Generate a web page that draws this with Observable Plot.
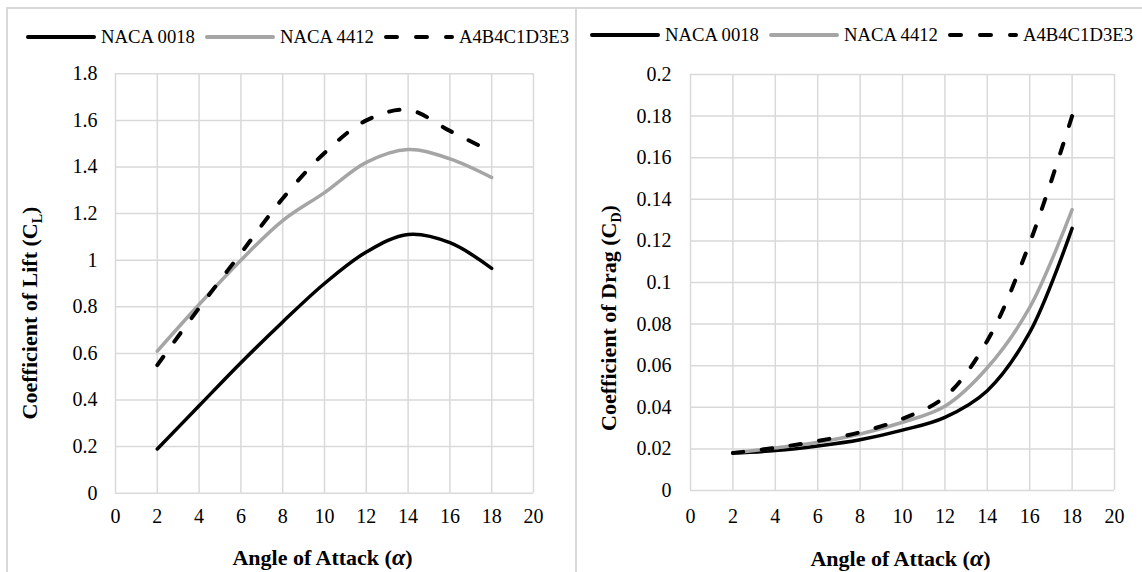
<!DOCTYPE html>
<html>
<head>
<meta charset="utf-8">
<script src="https://cdn.jsdelivr.net/npm/d3@7"></script>
<script src="https://cdn.jsdelivr.net/npm/@observablehq/plot@0.6"></script>
<style>
  html, body { margin: 0; padding: 0; background: #fff; }
  body { width: 1142px; height: 572px; overflow: hidden; font-family: "Liberation Serif", "Times New Roman", serif; font-weight: 400; color: #000; }
  #wrap { position: relative; width: 1142px; height: 572px; }
  .chart { position: absolute; top: 52px; }
  .legend { position: absolute; display: flex; align-items: center; height: 24px; font-size: 18.7px; white-space: nowrap; line-height: 24px; }
  .legend .item { display: flex; align-items: center; }
  .legend svg { display: block; }
  .legend .lab { margin-left: 5px; }
  .legend .item + .item { margin-left: 10px; }
  .line-h { position: absolute; background: #d9d9d9; pointer-events: none; }
</style>
</head>
<body>
<div id="wrap">
  <div class="line-h" style="left:6px; top:7px; width:1136px; height:1.5px;"></div>
  <div class="line-h" style="left:6px; top:7px; width:1.5px; height:565px;"></div>
  <div class="line-h" style="left:574.5px; top:7px; width:2px; height:565px;"></div>
  <div id="legendL" class="legend" style="left:26px; top:25px;"></div>
  <div id="legendR" class="legend" style="left:590px; top:23px;"></div>
  <div id="chartL" class="chart" style="left:0px;"></div>
  <div id="chartR" class="chart" style="left:575px;"></div>
</div>
<script>
// ---- data ----
const angles = [2, 4, 6, 8, 10, 12, 14, 16, 18];
const seriesNames = ["NACA 0018", "NACA 4412", "A4B4C1D3E3"];

const liftNACA0018 = [0.19, 0.375, 0.56, 0.735, 0.9, 1.035, 1.11, 1.075, 0.965];
const liftNACA4412 = [0.61, 0.81, 1.0, 1.17, 1.29, 1.42, 1.475, 1.435, 1.355];
const liftA4B4C1D3E3 = [0.55, 0.795, 1.03, 1.265, 1.46, 1.6, 1.645, 1.555, 1.465];

const dragNACA0018 = [0.018, 0.0192, 0.0214, 0.0244, 0.029, 0.0352, 0.048, 0.076, 0.126];
const dragNACA4412 = [0.018, 0.0205, 0.0232, 0.0272, 0.0328, 0.0405, 0.059, 0.088, 0.135];
const dragA4B4C1D3E3 = [0.018, 0.0205, 0.0238, 0.028, 0.0345, 0.045, 0.072, 0.119, 0.18];

const xTicks = [0, 2, 4, 6, 8, 10, 12, 14, 16, 18, 20];
const liftTicks = [0, 0.2, 0.4, 0.6, 0.8, 1, 1.2, 1.4, 1.6, 1.8];
const dragTicks = [0, 0.02, 0.04, 0.06, 0.08, 0.1, 0.12, 0.14, 0.16, 0.18, 0.2];

const xTitle = "Angle of Attack (α)";
const liftTitle = "Coefficient of Lift (CL)";
const dragTitle = "Coefficient of Drag (CD)";

const serifStack = "'Liberation Serif', 'Times New Roman', serif";

// ---- styles ----
const seriesStyle = {
  "NACA 0018": {stroke: "#000000", strokeWidth: 3.5, dash: null},
  "NACA 4412": {stroke: "#a5a5a5", strokeWidth: 3.5, dash: null},
  "A4B4C1D3E3": {stroke: "#000000", strokeWidth: 4, dash: "10.5,18.5"}
};

function rows(values) {
  return angles.map((a, i) => ({angle: a, value: values[i]}));
}

function buildLegend(el) {
  const ns = "http://www.w3.org/2000/svg";
  seriesNames.forEach(name => {
    const st = seriesStyle[name];
    const item = document.createElement("div");
    item.className = "item";
    const svg = document.createElementNS(ns, "svg");
    svg.setAttribute("width", 70);
    svg.setAttribute("height", 12);
    const ln = document.createElementNS(ns, "line");
    ln.setAttribute("x1", 2); ln.setAttribute("x2", 68);
    ln.setAttribute("y1", 6); ln.setAttribute("y2", 6);
    ln.setAttribute("stroke", st.stroke);
    ln.setAttribute("stroke-width", 4);
    ln.setAttribute("stroke-linecap", "round");
    if (st.dash) ln.setAttribute("stroke-dasharray", "11,19");
    svg.appendChild(ln);
    const lab = document.createElement("span");
    lab.className = "lab";
    lab.textContent = name;
    item.appendChild(svg);
    item.appendChild(lab);
    el.appendChild(item);
  });
}

function chart(cfg) {
  const marks = [
    Plot.ruleX(xTicks, {x: d => d, stroke: "#d9d9d9", strokeWidth: 1.5}),
    Plot.ruleY(cfg.yTicks, {y: d => d, stroke: "#d9d9d9", strokeWidth: 1.5})
  ];
  cfg.series.forEach(([name, vals]) => {
    const st = seriesStyle[name];
    const opts = {x: "angle", y: "value", stroke: st.stroke, strokeWidth: st.strokeWidth, curve: "catmull-rom"};
    if (st.dash) { opts.strokeDasharray = st.dash; opts.strokeLinecap = "round"; }
    marks.push(Plot.line(rows(vals), opts));
  });
  marks.push(Plot.text([xTitle], {text: d => d, frameAnchor: "bottom", textAnchor: "middle", dx: -2, dy: cfg.xTitleDy, fontWeight: "bold", fontSize: 22, lineAnchor: "middle"}));
  marks.push(Plot.text([cfg.yTitle], {text: d => d, frameAnchor: "left", textAnchor: "middle", rotate: -90, dx: cfg.yTitleDx, dy: cfg.yTitleDy, fontWeight: "bold", fontSize: 22, lineAnchor: "middle"}));
  return Plot.plot({
    width: cfg.width,
    height: 520,
    marginLeft: cfg.marginLeft,
    marginRight: cfg.marginRight,
    marginTop: cfg.marginTop,
    marginBottom: cfg.marginBottom,
    style: {fontFamily: serifStack, fontSize: "20px", fontWeight: "400", color: "#000", background: "transparent", overflow: "visible"},
    x: {domain: [0, 20], ticks: xTicks, tickSize: 0, tickPadding: cfg.xPad, label: null, tickFormat: d => String(d)},
    y: {domain: cfg.yDomain, ticks: cfg.yTicks, tickSize: 0, tickPadding: cfg.yPad, label: null, tickFormat: d => String(d)},
    marks
  });
}

function decorate(svg) {
  const ns = "http://www.w3.org/2000/svg";
  svg.querySelectorAll("text").forEach(t => {
    const s = t.textContent;
    if (s === liftTitle || s === dragTitle) {
      const main = s.slice(0, s.length - 2);
      const sub = s.slice(s.length - 2, s.length - 1);
      t.textContent = "";
      t.appendChild(document.createTextNode(main));
      const ts = document.createElementNS(ns, "tspan");
      ts.setAttribute("font-size", "14");
      ts.setAttribute("dy", "5");
      ts.textContent = sub;
      t.appendChild(ts);
      const te = document.createElementNS(ns, "tspan");
      te.setAttribute("dy", "-5");
      te.textContent = ")";
      t.appendChild(te);
    } else if (s === xTitle) {
      t.textContent = "";
      t.appendChild(document.createTextNode("Angle of Attack ("));
      const ta = document.createElementNS(ns, "tspan");
      ta.setAttribute("font-style", "italic");
      ta.setAttribute("font-size", "24");
      ta.textContent = "α";
      t.appendChild(ta);
      t.appendChild(document.createTextNode(")"));
    }
  });
  return svg;
}

buildLegend(document.getElementById("legendL"));
buildLegend(document.getElementById("legendR"));

document.getElementById("chartL").appendChild(decorate(chart({
  width: 575, marginLeft: 115, marginRight: 42, marginTop: 21.3, marginBottom: 79.3,
  yDomain: [0, 1.8], yTicks: liftTicks, xPad: 16, yPad: 18,
  xTitleDy: 65, yTitle: liftTitle, yTitleDx: -86, yTitleDy: 29.5,
  series: [["NACA 0018", liftNACA0018], ["NACA 4412", liftNACA4412], ["A4B4C1D3E3", liftA4B4C1D3E3]]
})));

document.getElementById("chartR").appendChild(decorate(chart({
  width: 567, marginLeft: 115, marginRight: 28, marginTop: 22, marginBottom: 82,
  yDomain: [0, 0.2], yTicks: dragTicks, xPad: 18, yPad: 19,
  xTitleDy: 68, yTitle: dragTitle, yTitleDx: -82, yTitleDy: 35.5,
  series: [["NACA 0018", dragNACA0018], ["NACA 4412", dragNACA4412], ["A4B4C1D3E3", dragA4B4C1D3E3]]
})));
</script>
</body>
</html>
